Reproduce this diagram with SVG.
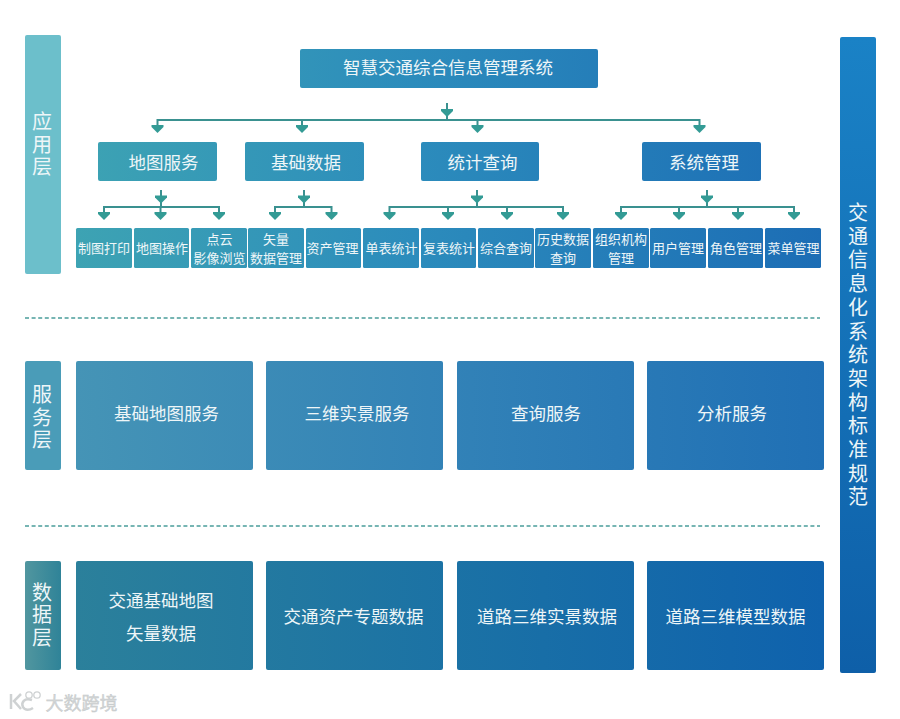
<svg xmlns="http://www.w3.org/2000/svg" width="900" height="719" viewBox="0 0 900 719">
<defs>
<linearGradient id="gApp" gradientUnits="userSpaceOnUse" x1="76" y1="0" x2="824" y2="0"><stop offset="0" stop-color="#3da3b3"/><stop offset="0.45" stop-color="#2c8cbc"/><stop offset="1" stop-color="#1c6db5"/></linearGradient>
<linearGradient id="gSvc" gradientUnits="userSpaceOnUse" x1="76" y1="0" x2="824" y2="0"><stop offset="0" stop-color="#4594b6"/><stop offset="0.5" stop-color="#3282b7"/><stop offset="1" stop-color="#2070b5"/></linearGradient>
<linearGradient id="gDat" gradientUnits="userSpaceOnUse" x1="76" y1="0" x2="824" y2="0"><stop offset="0" stop-color="#2b809b"/><stop offset="0.5" stop-color="#1b72a5"/><stop offset="1" stop-color="#0f62ad"/></linearGradient>
<linearGradient id="gRight" x1="0" y1="0" x2="0" y2="1"><stop offset="0" stop-color="#1a82c6"/><stop offset="1" stop-color="#0e5fa8"/></linearGradient>
<linearGradient id="gDatL" x1="0" y1="0" x2="1" y2="0"><stop offset="0" stop-color="#51969f"/><stop offset="1" stop-color="#2f8398"/></linearGradient>
<path id="ah" d="M-6 -7.5H6V-5.5L2 -1.5L0 .5L-2 -1.5L-6 -5.5Z" fill="#339b95"/>
</defs>
<style>
text{font-family:"Noto Sans CJK SC","Liberation Sans",sans-serif;fill:#eef6f8;text-anchor:middle}
.st{stroke:#3a9190;stroke-width:2;fill:none}
.b1{fill:url(#gApp)}.b2{fill:url(#gSvc)}.b3{fill:url(#gDat)}
.t17{font-size:17.5px}.t12{font-size:13px}
.v{font-size:20px;writing-mode:vertical-rl;text-orientation:upright;letter-spacing:2.6px}
.dash{stroke:#4a9d9a;stroke-width:1.3;stroke-dasharray:4 2.6;fill:none}
</style>
<rect width="900" height="719" fill="#fff"/>
<g id="layer-app"><rect x="25" y="35" width="36" height="239" rx="2" fill="#6cbfcb"/><text class="v" x="42" y="145.500">应用层</text></g>
<g id="layer-svc"><rect x="25" y="361" width="36" height="109" rx="2" fill="#4a9cb8"/><text class="v" x="42" y="418.500">服务层</text></g>
<g id="layer-dat"><rect x="25" y="561" width="36" height="109" rx="2" fill="url(#gDatL)"/><text class="v" x="42" y="616">数据层</text></g>
<g id="standard"><rect x="840" y="37" width="36" height="636" rx="2" fill="url(#gRight)"/><text class="v" x="858" y="356.500" style="letter-spacing:3.7px">交通信息化系统架构标准规范</text></g>
<g id="connectors">
<path class="st" d="M157.500 128V120H699.500V128M447 103V120M302 120V128M477.500 120V128"/>
<path class="st" d="M104 215V207H219V215M160.500 207V215M161 190V207"/>
<path class="st" d="M275 215V207H331.500V215M304 190V207"/>
<path class="st" d="M389.500 215V207H563V215M448 207V215M507 207V215M477 190V207"/>
<path class="st" d="M621 215V207H794V215M679 207V215M738 207V215M707 190V207"/>
<use href="#ah" x="447" y="116.500"/><use href="#ah" x="157.500" y="132.500"/><use href="#ah" x="302" y="132.500"/><use href="#ah" x="477.500" y="132.500"/><use href="#ah" x="699.500" y="132.500"/>
<use href="#ah" x="161" y="203"/><use href="#ah" x="304" y="203"/><use href="#ah" x="477" y="203"/><use href="#ah" x="707" y="203"/>
<use href="#ah" x="104" y="219.500"/><use href="#ah" x="160.500" y="219.500"/><use href="#ah" x="219" y="219.500"/><use href="#ah" x="275" y="219.500"/><use href="#ah" x="331.500" y="219.500"/>
<use href="#ah" x="389.500" y="219.500"/><use href="#ah" x="448" y="219.500"/><use href="#ah" x="507" y="219.500"/><use href="#ah" x="563" y="219.500"/>
<use href="#ah" x="621" y="219.500"/><use href="#ah" x="679" y="219.500"/><use href="#ah" x="738" y="219.500"/><use href="#ah" x="794" y="219.500"/>
<path class="dash" d="M25 318H820M25 526H820"/>
</g>
<g id="title"><rect class="b1" x="300" y="49" width="298" height="39" rx="2"/><text class="t17" x="448" y="74">智慧交通综合信息管理系统</text></g>
<g id="n-map"><rect class="b1" x="98" y="142" width="119" height="39" rx="2"/><text class="t17" x="163.500" y="169">地图服务</text></g>
<g id="n-base"><rect class="b1" x="245" y="142" width="119" height="39" rx="2"/><text class="t17" x="306" y="169">基础数据</text></g>
<g id="n-stat"><rect class="b1" x="421" y="142" width="118" height="39" rx="2"/><text class="t17" x="482.500" y="169">统计查询</text></g>
<g id="n-sys"><rect class="b1" x="642" y="142" width="119" height="39" rx="2"/><text class="t17" x="704" y="169">系统管理</text></g>
<g id="m1"><rect class="b1" x="76" y="228" width="56" height="40" rx="1.500"/><text class="t12" x="104" y="253">制图打印</text></g>
<g id="m2"><rect class="b1" x="134" y="228" width="55" height="40" rx="1.500"/><text class="t12" x="162" y="253">地图操作</text></g>
<g id="m3"><rect class="b1" x="191" y="228" width="56" height="40" rx="1.500"/><text class="t12"><tspan x="219.500" y="243.500">点云</tspan><tspan x="219.500" y="262.500">影像浏览</tspan></text></g>
<g id="m4"><rect class="b1" x="248" y="228" width="56" height="40" rx="1.500"/><text class="t12"><tspan x="276" y="243.500">矢量</tspan><tspan x="276" y="262.500">数据管理</tspan></text></g>
<g id="m5"><rect class="b1" x="306" y="228" width="55" height="40" rx="1.500"/><text class="t12" x="332.500" y="253">资产管理</text></g>
<g id="m6"><rect class="b1" x="363" y="228" width="56" height="40" rx="1.500"/><text class="t12" x="391.500" y="253">单表统计</text></g>
<g id="m7"><rect class="b1" x="421" y="228" width="55" height="40" rx="1.500"/><text class="t12" x="449" y="253">复表统计</text></g>
<g id="m8"><rect class="b1" x="478" y="228" width="56" height="40" rx="1.500"/><text class="t12" x="506" y="253">综合查询</text></g>
<g id="m9"><rect class="b1" x="535" y="228" width="56" height="40" rx="1.500"/><text class="t12"><tspan x="563" y="243.500">历史数据</tspan><tspan x="563" y="262.500">查询</tspan></text></g>
<g id="m10"><rect class="b1" x="593" y="228" width="56" height="40" rx="1.500"/><text class="t12"><tspan x="621" y="243.500">组织机构</tspan><tspan x="621" y="262.500">管理</tspan></text></g>
<g id="m11"><rect class="b1" x="650" y="228" width="56" height="40" rx="1.500"/><text class="t12" x="678" y="253">用户管理</text></g>
<g id="m12"><rect class="b1" x="708" y="228" width="55" height="40" rx="1.500"/><text class="t12" x="736" y="253">角色管理</text></g>
<g id="m13"><rect class="b1" x="765" y="228" width="56" height="40" rx="1.500"/><text class="t12" x="793.500" y="253">菜单管理</text></g>
<g id="s1"><rect class="b2" x="76" y="361" width="177" height="109" rx="2"/><text class="t17" x="166.500" y="420">基础地图服务</text></g>
<g id="s2"><rect class="b2" x="266" y="361" width="177" height="109" rx="2"/><text class="t17" x="357" y="420">三维实景服务</text></g>
<g id="s3"><rect class="b2" x="457" y="361" width="177" height="109" rx="2"/><text class="t17" x="546" y="420">查询服务</text></g>
<g id="s4"><rect class="b2" x="647" y="361" width="177" height="109" rx="2"/><text class="t17" x="732" y="420">分析服务</text></g>
<g id="d1"><rect class="b3" x="76" y="561" width="177" height="109" rx="2"/><text class="t17" x="161" y="607">交通基础地图</text><text class="t17" x="161" y="640">矢量数据</text></g>
<g id="d2"><rect class="b3" x="266" y="561" width="177" height="109" rx="2"/><text class="t17" x="353.500" y="623">交通资产专题数据</text></g>
<g id="d3"><rect class="b3" x="457" y="561" width="177" height="109" rx="2"/><text class="t17" x="547" y="623">道路三维实景数据</text></g>
<g id="d4"><rect class="b3" x="647" y="561" width="177" height="109" rx="2"/><text class="t17" x="735.500" y="623">道路三维模型数据</text></g>
<g id="watermark"><path d="M11 694V709M21 694L14 701L21 709M32 700C24 697 21 703 23 707C25 711 30 710 33 708" fill="none" stroke="#cfd2d3" stroke-width="2.500"/><circle cx="29" cy="695" r="3.200" fill="none" stroke="#cfd2d3" stroke-width="1.300"/><circle cx="37" cy="695" r="3.200" fill="none" stroke="#cfd2d3" stroke-width="1.300"/><text x="81.500" y="710" style="font-size:18px;fill:#d2d5d6;stroke:#c4c8c9;stroke-width:.4">大数跨境</text></g>
</svg>
